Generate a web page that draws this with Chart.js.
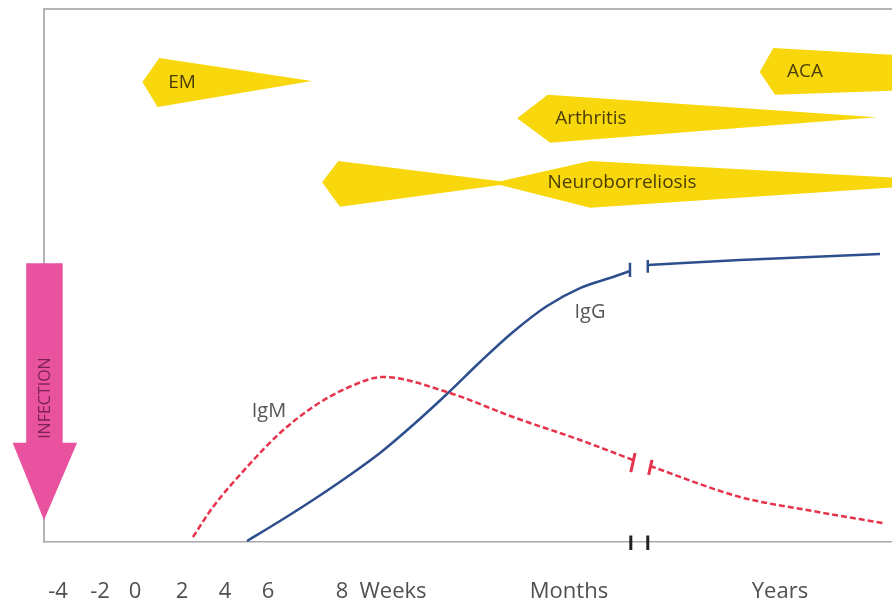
<!DOCTYPE html>
<html><head><meta charset="utf-8">
<script src="https://cdn.jsdelivr.net/npm/chart.js@4"></script>
<style>html,body{margin:0;padding:0;background:#fff;}canvas{display:block;}</style>
</head><body>
<canvas id="c" width="892" height="607"></canvas>
<script>
// ---- x axis tick labels (timeline, schematic units 0..100) ----
const xTickValues = [1.65, 6.6, 10.73, 16.27, 21.34, 26.42, 35.14, 41.16, 61.91, 86.79];
const xTickLabels = ['-4', '-2', '0', '2', '4', '6', '8', 'Weeks', 'Months', 'Years'];

// ---- antibody curves (relative titre 0..100) ----
const igmEarlyX = [17.57, 19.93, 23.94, 27.83, 31.72, 35.73, 39.98, 47.52, 55.31, 63.21, 69.46];
const igmEarlyY = [0.94, 6.57, 14.07, 20.45, 25.33, 28.89, 30.96, 28.14, 23.45, 19.14, 15.38];
const igmLateX = [71.46, 82.08, 89.98, 98.94];
const igmLateY = [14.26, 8.44, 6.0, 3.56];

const iggEarlyX = [23.94, 27.83, 31.72, 35.73, 39.62, 43.51, 47.52, 51.42, 55.31, 59.32, 63.21, 67.1, 69.1];
const iggEarlyY = [0.19, 3.94, 7.88, 12.2, 16.7, 21.95, 27.77, 33.77, 39.4, 44.28, 47.65, 49.72, 50.84];
const iggLateX = [71.23, 82.08, 98.58];
const iggLateY = [51.97, 52.91, 54.03];

// ---- clinical phases (outline vertices) ----
const emX = [11.6, 13.6, 31.6, 13.4, 11.6];
const emY = [86.3, 90.8, 86.5, 81.6, 86.3];
const acaX = [84.4, 86.0, 101, 101, 86.2, 84.4];
const acaY = [88.2, 92.7, 91.3, 84.7, 83.9, 88.2];
const arthritisX = [55.8, 59.4, 98.2, 59.7, 55.8];
const arthritisY = [79.5, 83.9, 79.7, 74.9, 79.5];
const neuroX = [32.8, 34.7, 53.8, 64.4, 101, 101, 64.4, 53.8, 34.9, 32.8];
const neuroY = [67.5, 71.5, 67.7, 71.5, 68.3, 66.6, 62.7, 67.0, 62.9, 67.5];

// ---- infection arrow outline ----
const infectionX = [-2.1, 2.2, 2.2, 3.9, 0, -3.7, -2.1];
const infectionY = [52.3, 52.3, 18.6, 18.6, 4.1, 18.6, 18.6];

// ---- break marks (pairs of points) ----
const iggBreakX = [[69.1, 69.1], [71.2, 71.2]];
const iggBreakY = [[52.4, 49.7], [52.9, 50.5]];
const igmBreakX = [[69.7, 69.2], [71.7, 71.3]];
const igmBreakY = [[16.7, 13.1], [15.4, 12.6]];
const axisBreakX = [[69.2, 69.2], [71.2, 71.2]];
const axisBreakY = [[1.2, -1.5], [1.2, -1.5]];

// ---- text labels ----
const phaseNames = ['EM', 'ACA', 'Arthritis', 'Neuroborreliosis'];
const phaseLabelX = [16.27, 89.74, 64.5, 68.16];
const phaseLabelY = [86.1, 88.2, 79.4, 67.35];
const curveNames = ['IgM', 'IgG'];
const curveLabelX = [26.53, 64.39];
const curveLabelY = [24.58, 43.15];
const infectionText = 'INFECTION';
const infectionLabelX = 0;
const infectionLabelY = 27.0;

const pts = (xs, ys) => xs.map((v, i) => ({x: v, y: ys[i]}));

const YELLOW = '#f8d80c';
const BLUE = '#2d4f8d';
const RED = '#e6334c';
const MAGENTA = '#e8529f';

function shape(xs, ys, color) {
  return {data: pts(xs, ys), backgroundColor: color, borderColor: 'rgba(0,0,0,0)', borderWidth: 1,
    pointRadius: 0, tension: 0, fill: 'shape', clip: false, order: 5};
}
function curve(xs, ys, color, dash) {
  return {data: pts(xs, ys), borderColor: color, borderWidth: 2.5, borderDash: dash || [],
    pointRadius: 0, fill: false, cubicInterpolationMode: 'monotone', order: 1};
}
function mark(xs, ys, color, w) {
  return {data: pts(xs, ys), borderColor: color, borderWidth: w, pointRadius: 0, fill: false,
    tension: 0, clip: false, order: 0, borderCapStyle: 'butt'};
}

const datasets = [
  shape(emX, emY, YELLOW),
  shape(acaX, acaY, YELLOW),
  shape(arthritisX, arthritisY, YELLOW),
  shape(neuroX, neuroY, YELLOW),
  curve(igmEarlyX, igmEarlyY, RED, [6, 3]),
  curve(igmLateX, igmLateY, RED, [6, 3]),
  curve(iggEarlyX, iggEarlyY, BLUE),
  curve(iggLateX, iggLateY, BLUE),
];
iggBreakX.forEach((xs, i) => datasets.push(mark(xs, iggBreakY[i], BLUE, 2.5)));
igmBreakX.forEach((xs, i) => datasets.push(mark(xs, igmBreakY[i], RED, 3)));
axisBreakX.forEach((xs, i) => datasets.push(mark(xs, axisBreakY[i], '#222', 3)));

const labelPlugin = {
  id: 'textLabels',
  beforeDraw(chart) {
    const ctx = chart.ctx;
    ctx.save(); ctx.fillStyle = '#fff'; ctx.fillRect(0, 0, chart.width, chart.height); ctx.restore();
  },
  afterDatasetsDraw(chart) {
    const {ctx, scales: {x, y}} = chart;
    ctx.save();
    // infection arrow (extends left of the plot area, so drawn unclipped via the scales)
    ctx.beginPath();
    infectionX.forEach((v, i) => {
      const px = x.getPixelForValue(v), py = y.getPixelForValue(infectionY[i]);
      if (i === 0) ctx.moveTo(px, py); else ctx.lineTo(px, py);
    });
    ctx.closePath();
    ctx.fillStyle = MAGENTA;
    ctx.fill();

    ctx.textAlign = 'center';
    ctx.textBaseline = 'middle';
    ctx.fillStyle = '#4a3d06';
    ctx.font = '19px "Open Sans"';
    phaseNames.forEach((t, i) => ctx.fillText(t, x.getPixelForValue(phaseLabelX[i]), y.getPixelForValue(phaseLabelY[i])));
    ctx.fillStyle = '#555';
    ctx.font = '20px "Open Sans"';
    curveNames.forEach((t, i) => ctx.fillText(t, x.getPixelForValue(curveLabelX[i]), y.getPixelForValue(curveLabelY[i])));
    ctx.translate(x.getPixelForValue(infectionLabelX), y.getPixelForValue(infectionLabelY));
    ctx.rotate(-Math.PI / 2);
    ctx.fillStyle = '#7c2157';
    ctx.font = '16px "Open Sans"';
    ctx.fillText(infectionText, 0, 1);
    ctx.restore();
  }
};

Chart.defaults.font.family = '"Open Sans", sans-serif';

new Chart(document.getElementById('c'), {
  type: 'line',
  data: {datasets},
  options: {
    responsive: false,
    animation: false,
    events: [],
    layout: {padding: {left: 44, top: 9, right: 0, bottom: 2}, autoPadding: false},
    plugins: {legend: {display: false}, tooltip: {enabled: false}},
    scales: {
      x: {
        type: 'linear', position: 'bottom', min: 0, max: 100,
        grid: {display: false, drawTicks: false},
        border: {display: true, color: '#a8a8a8', width: 1.5},
        afterBuildTicks: (axis) => { axis.ticks = xTickValues.map(v => ({value: v})); },
        afterFit: (axis) => { axis.height = 63; },
        ticks: {
          autoSkip: false, maxRotation: 0, minRotation: 0, padding: 37,
          color: '#505050', font: {size: 22},
          callback: (v, i) => xTickLabels[i]
        }
      },
      xTop: {
        type: 'linear', position: 'top', min: 0, max: 100,
        grid: {display: false, drawTicks: false},
        border: {display: true, color: '#b4b4b4', width: 2},
        ticks: {display: false}
      },
      y: {
        type: 'linear', min: 0, max: 100,
        grid: {display: false, drawTicks: false},
        border: {display: true, color: '#b4b4b4', width: 2},
        ticks: {display: false}
      }
    }
  },
  plugins: [labelPlugin]
});
</script>
</body></html>
